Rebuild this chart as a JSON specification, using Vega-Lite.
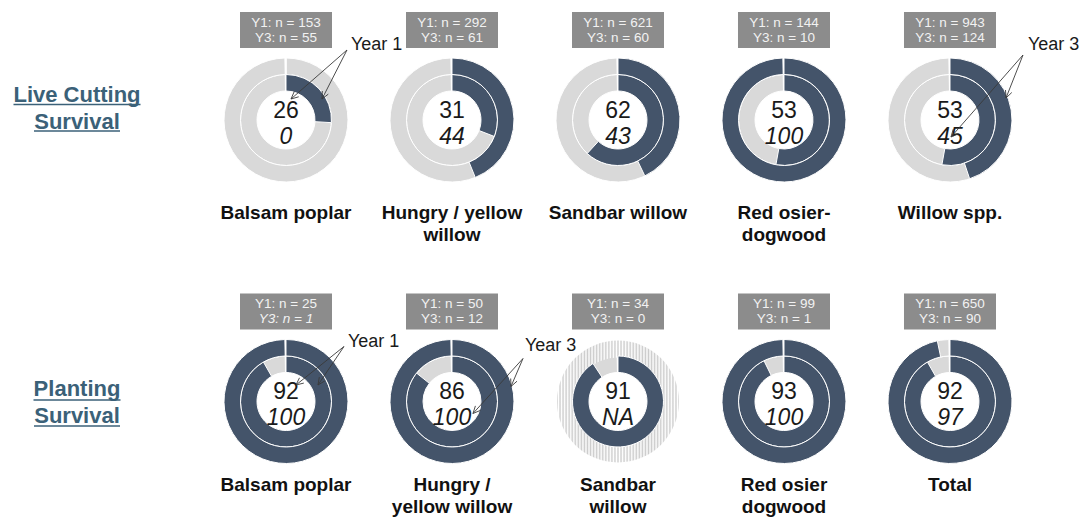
{
  "$schema": "https://vega.github.io/schema/vega-lite/v6.json",
  "width": 1085,
  "height": 520,
  "padding": 0,
  "autosize": {"type": "fit", "contains": "padding"},
  "background": "white",
  "config": {"view": {"stroke": null}, "font": "Liberation Sans"},
  "datasets": {
    "donuts": [
      {"group": "Live Cutting Survival", "heading": "Live Cutting\nSurvival", "row": 1, "col": 1, "species": "Balsam poplar", "label": "Balsam poplar", "y1": 26, "y3": 0, "n1": 153, "n3": 55},
      {"group": "Live Cutting Survival", "heading": "Live Cutting\nSurvival", "row": 1, "col": 2, "species": "Hungry / yellow willow", "label": "Hungry / yellow\nwillow", "y1": 31, "y3": 44, "n1": 292, "n3": 61},
      {"group": "Live Cutting Survival", "heading": "Live Cutting\nSurvival", "row": 1, "col": 3, "species": "Sandbar willow", "label": "Sandbar willow", "y1": 62, "y3": 43, "n1": 621, "n3": 60},
      {"group": "Live Cutting Survival", "heading": "Live Cutting\nSurvival", "row": 1, "col": 4, "species": "Red osier-dogwood", "label": "Red osier-\ndogwood", "y1": 53, "y3": 100, "n1": 144, "n3": 10},
      {"group": "Live Cutting Survival", "heading": "Live Cutting\nSurvival", "row": 1, "col": 5, "species": "Willow spp.", "label": "Willow spp.", "y1": 53, "y3": 45, "n1": 943, "n3": 124},
      {"group": "Planting Survival", "heading": "Planting\nSurvival", "row": 2, "col": 1, "species": "Balsam poplar", "label": "Balsam poplar", "y1": 92, "y3": 100, "n1": 25, "n3": 1},
      {"group": "Planting Survival", "heading": "Planting\nSurvival", "row": 2, "col": 2, "species": "Hungry / yellow willow", "label": "Hungry /\nyellow willow", "y1": 86, "y3": 100, "n1": 50, "n3": 12},
      {"group": "Planting Survival", "heading": "Planting\nSurvival", "row": 2, "col": 3, "species": "Sandbar willow", "label": "Sandbar\nwillow", "y1": 91, "y3": null, "n1": 34, "n3": 0},
      {"group": "Planting Survival", "heading": "Planting\nSurvival", "row": 2, "col": 4, "species": "Red osier dogwood", "label": "Red osier\ndogwood", "y1": 93, "y3": 100, "n1": 99, "n3": 1},
      {"group": "Planting Survival", "heading": "Planting\nSurvival", "row": 2, "col": 5, "species": "Total", "label": "Total", "y1": 92, "y3": 97, "n1": 650, "n3": 90}
    ]
  },
  "data": {"name": "donuts"},
  "encoding": {
    "x": {"field": "col", "type": "quantitative", "scale": {"domain": [-0.7229, 5.8133], "nice": false, "zero": false}, "axis": null},
    "y": {"field": "row", "type": "quantitative", "scale": {"domain": [0.5737, 2.421], "nice": false, "zero": false, "reverse": true}, "axis": null}
  },
  "layer": [
    {"mark": {"type": "arc", "radius": 45.5, "radius2": 29, "theta": 0, "theta2": 6.265, "fill": "#d9d9d9", "stroke": "white", "strokeWidth": 1}},
    {"transform": [{"filter": "isValid(datum.y3)"}],
     "mark": {"type": "arc", "radius": 62, "radius2": 45.5, "theta": 0, "theta2": 6.265, "fill": "#d9d9d9", "stroke": "white", "strokeWidth": 1}},
    {"transform": [{"filter": "!isValid(datum.y3)"}],
     "mark": {"type": "arc", "radius": 61, "radius2": 44, "theta": 0, "theta2": 6.2832, "strokeWidth": 0,
       "fill": {"gradient": "linear", "x1": 0, "y1": 0, "x2": 1, "y2": 0, "stops": [
        {"offset": 0, "color": "#cccccc"}, {"offset": 0.0125, "color": "#ffffff"}, {"offset": 0.025, "color": "#cccccc"}, {"offset": 0.0375, "color": "#ffffff"},
        {"offset": 0.05, "color": "#cccccc"}, {"offset": 0.0625, "color": "#ffffff"}, {"offset": 0.075, "color": "#cccccc"}, {"offset": 0.0875, "color": "#ffffff"},
        {"offset": 0.1, "color": "#cccccc"}, {"offset": 0.1125, "color": "#ffffff"}, {"offset": 0.125, "color": "#cccccc"}, {"offset": 0.1375, "color": "#ffffff"},
        {"offset": 0.15, "color": "#cccccc"}, {"offset": 0.1625, "color": "#ffffff"}, {"offset": 0.175, "color": "#cccccc"}, {"offset": 0.1875, "color": "#ffffff"},
        {"offset": 0.2, "color": "#cccccc"}, {"offset": 0.2125, "color": "#ffffff"}, {"offset": 0.225, "color": "#cccccc"}, {"offset": 0.2375, "color": "#ffffff"},
        {"offset": 0.25, "color": "#cccccc"}, {"offset": 0.2625, "color": "#ffffff"}, {"offset": 0.275, "color": "#cccccc"}, {"offset": 0.2875, "color": "#ffffff"},
        {"offset": 0.3, "color": "#cccccc"}, {"offset": 0.3125, "color": "#ffffff"}, {"offset": 0.325, "color": "#cccccc"}, {"offset": 0.3375, "color": "#ffffff"},
        {"offset": 0.35, "color": "#cccccc"}, {"offset": 0.3625, "color": "#ffffff"}, {"offset": 0.375, "color": "#cccccc"}, {"offset": 0.3875, "color": "#ffffff"},
        {"offset": 0.4, "color": "#cccccc"}, {"offset": 0.4125, "color": "#ffffff"}, {"offset": 0.425, "color": "#cccccc"}, {"offset": 0.4375, "color": "#ffffff"},
        {"offset": 0.45, "color": "#cccccc"}, {"offset": 0.4625, "color": "#ffffff"}, {"offset": 0.475, "color": "#cccccc"}, {"offset": 0.4875, "color": "#ffffff"},
        {"offset": 0.5, "color": "#cccccc"}, {"offset": 0.5125, "color": "#ffffff"}, {"offset": 0.525, "color": "#cccccc"}, {"offset": 0.5375, "color": "#ffffff"},
        {"offset": 0.55, "color": "#cccccc"}, {"offset": 0.5625, "color": "#ffffff"}, {"offset": 0.575, "color": "#cccccc"}, {"offset": 0.5875, "color": "#ffffff"},
        {"offset": 0.6, "color": "#cccccc"}, {"offset": 0.6125, "color": "#ffffff"}, {"offset": 0.625, "color": "#cccccc"}, {"offset": 0.6375, "color": "#ffffff"},
        {"offset": 0.65, "color": "#cccccc"}, {"offset": 0.6625, "color": "#ffffff"}, {"offset": 0.675, "color": "#cccccc"}, {"offset": 0.6875, "color": "#ffffff"},
        {"offset": 0.7, "color": "#cccccc"}, {"offset": 0.7125, "color": "#ffffff"}, {"offset": 0.725, "color": "#cccccc"}, {"offset": 0.7375, "color": "#ffffff"},
        {"offset": 0.75, "color": "#cccccc"}, {"offset": 0.7625, "color": "#ffffff"}, {"offset": 0.775, "color": "#cccccc"}, {"offset": 0.7875, "color": "#ffffff"},
        {"offset": 0.8, "color": "#cccccc"}, {"offset": 0.8125, "color": "#ffffff"}, {"offset": 0.825, "color": "#cccccc"}, {"offset": 0.8375, "color": "#ffffff"},
        {"offset": 0.85, "color": "#cccccc"}, {"offset": 0.8625, "color": "#ffffff"}, {"offset": 0.875, "color": "#cccccc"}, {"offset": 0.8875, "color": "#ffffff"},
        {"offset": 0.9, "color": "#cccccc"}, {"offset": 0.9125, "color": "#ffffff"}, {"offset": 0.925, "color": "#cccccc"}, {"offset": 0.9375, "color": "#ffffff"},
        {"offset": 0.95, "color": "#cccccc"}, {"offset": 0.9625, "color": "#ffffff"}, {"offset": 0.975, "color": "#cccccc"}, {"offset": 0.9875, "color": "#ffffff"},
        {"offset": 1, "color": "#cccccc"}
       ]}}},
    {"mark": {"type": "arc", "radius": 45.5, "radius2": 29, "fill": "#44546a", "stroke": "white", "strokeWidth": 1},
     "encoding": {"theta": {"field": "y1", "type": "quantitative", "stack": null, "scale": {"domain": [0, 100], "range": [0, 6.265]}}}},
    {"mark": {"type": "arc", "radius": 62, "radius2": 45.5, "fill": "#44546a", "stroke": "white", "strokeWidth": 1},
     "encoding": {"theta": {"field": "y3", "type": "quantitative", "stack": null, "scale": {"domain": [0, 100], "range": [0, 6.265]}}}},
    {"mark": {"type": "text", "fontSize": 23, "dy": -9, "baseline": "middle", "align": "center", "color": "#1a1a1a"},
     "encoding": {"text": {"field": "y1", "type": "quantitative"}}},
    {"mark": {"type": "text", "fontSize": 23, "fontStyle": "italic", "dy": 16.5, "baseline": "middle", "align": "center", "color": "#1a1a1a",
       "text": {"expr": "isValid(datum.y3) ? '' + datum.y3 : 'NA'"}}},
    {"mark": {"type": "point", "shape": "M-46,-18H46V18H-46Z", "size": 4, "filled": true, "color": "#8c8c8c", "opacity": 1, "strokeWidth": 0, "yOffset": -90}},
    {"mark": {"type": "text", "fontSize": 13.5, "dy": -97.5, "baseline": "middle", "align": "center", "color": "#f2f2f2",
       "text": {"expr": "'Y1: n = ' + datum.n1"}}},
    {"transform": [{"filter": "!(datum.row == 2 && datum.col == 1)"}],
     "mark": {"type": "text", "fontSize": 13.5, "dy": -82.5, "baseline": "middle", "align": "center", "color": "#f2f2f2",
       "text": {"expr": "'Y3: n = ' + datum.n3"}}},
    {"transform": [{"filter": "datum.row == 2 && datum.col == 1"}],
     "mark": {"type": "text", "fontSize": 13.5, "fontStyle": "italic", "dy": -82.5, "baseline": "middle", "align": "center", "color": "#f2f2f2",
       "text": {"expr": "'Y3: n = ' + datum.n3"}}},
    {"transform": [{"filter": "datum.row == 1"}],
     "mark": {"type": "text", "fontSize": 19, "fontWeight": "bold", "dy": 98.5, "baseline": "alphabetic", "align": "center", "lineBreak": "\n", "lineHeight": 22.5, "color": "#111111"},
     "encoding": {"text": {"field": "label", "type": "nominal"}}},
    {"transform": [{"filter": "datum.row == 2"}],
     "mark": {"type": "text", "fontSize": 19, "fontWeight": "bold", "dy": 89.5, "baseline": "alphabetic", "align": "center", "lineBreak": "\n", "lineHeight": 22.5, "color": "#111111"},
     "encoding": {"text": {"field": "label", "type": "nominal"}}},
    {"transform": [{"filter": "datum.row == 1 && datum.col == 1"}],
     "mark": {"type": "text", "fontSize": 22, "fontWeight": "bold", "dx": -209, "dy": -18.5, "baseline": "alphabetic", "align": "center", "lineBreak": "\n", "lineHeight": 27.5, "color": "#3b6178"},
     "encoding": {"text": {"field": "heading", "type": "nominal"}}},
    {"transform": [{"filter": "datum.row == 2 && datum.col == 1"}],
     "mark": {"type": "text", "fontSize": 22, "fontWeight": "bold", "dx": -209, "dy": -5.5, "baseline": "alphabetic", "align": "center", "lineBreak": "\n", "lineHeight": 27.5, "color": "#3b6178"},
     "encoding": {"text": {"field": "heading", "type": "nominal"}}},
    {"transform": [{"filter": "datum.row == 1 && datum.col == 1"}],
     "mark": {"type": "tick", "orient": "horizontal", "thickness": 1.5, "color": "#3b6178", "opacity": 1, "xOffset": -209, "yOffset": -15.5, "size": 127}},
    {"transform": [{"filter": "datum.row == 1 && datum.col == 1"}],
     "mark": {"type": "tick", "orient": "horizontal", "thickness": 1.5, "color": "#3b6178", "opacity": 1, "xOffset": -209, "yOffset": 11, "size": 86}},
    {"transform": [{"filter": "datum.row == 2 && datum.col == 1"}],
     "mark": {"type": "tick", "orient": "horizontal", "thickness": 1.5, "color": "#3b6178", "opacity": 1, "xOffset": -209, "yOffset": -1.5, "size": 87}},
    {"transform": [{"filter": "datum.row == 2 && datum.col == 1"}],
     "mark": {"type": "tick", "orient": "horizontal", "thickness": 1.5, "color": "#3b6178", "opacity": 1, "xOffset": -209, "yOffset": 24.5, "size": 86}},
    {"transform": [{"filter": "datum.row == 1 && datum.col == 1"}],
     "mark": {"type": "text", "text": "Year 1", "fontSize": 18, "dx": 65, "dy": -75, "align": "left", "baseline": "middle", "color": "#1a1a1a"}},
    {"transform": [{"filter": "datum.row == 1 && datum.col == 1"}],
     "mark": {"type": "point", "size": 4, "filled": false, "opacity": 1, "stroke": "#3a3a3a", "strokeWidth": 0.9,
       "shape": "M61,-70L5,-21M12.7,-23.2L5,-21L8.2,-28.3M61,-70L36,-21M42.3,-25.9L36,-21L36.3,-29"}},
    {"transform": [{"filter": "datum.row == 1 && datum.col == 5"}],
     "mark": {"type": "text", "text": "Year 3", "fontSize": 18, "dx": 78, "dy": -75, "align": "left", "baseline": "middle", "color": "#1a1a1a"}},
    {"transform": [{"filter": "datum.row == 1 && datum.col == 5"}],
     "mark": {"type": "point", "size": 4, "filled": false, "opacity": 1, "stroke": "#3a3a3a", "strokeWidth": 0.9,
       "shape": "M73,-65L1,17M8.3,13.8L1,17L3.2,9.3M73,-65L56,-22M61.8,-27.5L56,-22L55.5,-30"}},
    {"transform": [{"filter": "datum.row == 2 && datum.col == 1"}],
     "mark": {"type": "text", "text": "Year 1", "fontSize": 18, "dx": 62, "dy": -59, "align": "left", "baseline": "middle", "color": "#1a1a1a"}},
    {"transform": [{"filter": "datum.row == 2 && datum.col == 1"}],
     "mark": {"type": "point", "size": 4, "filled": false, "opacity": 1, "stroke": "#3a3a3a", "strokeWidth": 0.9,
       "shape": "M58,-55L10,-16.5M17.8,-18.4L10,-16.5L13.5,-23.7M58,-55L32,-16.5M38.9,-20.6L32,-16.5L33.3,-24.4"}},
    {"transform": [{"filter": "datum.row == 2 && datum.col == 2"}],
     "mark": {"type": "text", "text": "Year 3", "fontSize": 18, "dx": 73, "dy": -55, "align": "left", "baseline": "middle", "color": "#1a1a1a"}},
    {"transform": [{"filter": "datum.row == 2 && datum.col == 2"}],
     "mark": {"type": "point", "size": 4, "filled": false, "opacity": 1, "stroke": "#3a3a3a", "strokeWidth": 0.9,
       "shape": "M71,-43L21,12M28.4,8.9L21,12L23.4,4.4M71,-43L59,-15M65,-20.3L59,-15L58.7,-23"}}
  ]
}
